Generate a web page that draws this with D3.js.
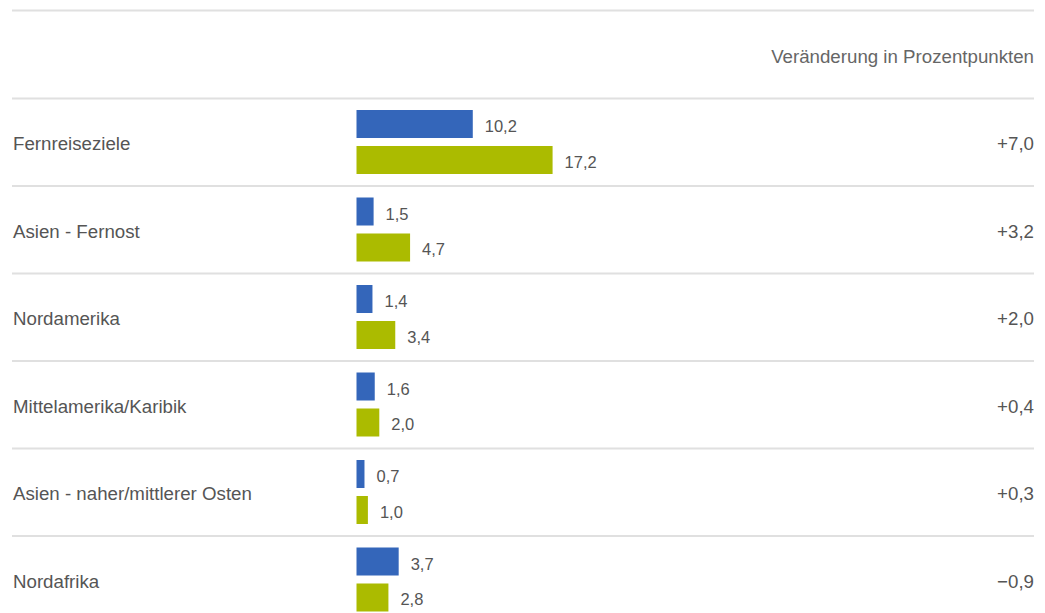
<html>
<head>
  <script type="text/javascript" src="https://d3js.org/d3.v7.min.js"></script>
  <style>
      body { margin: 0; background: #fff; font-family: "Liberation Sans", Arial, sans-serif; }
  </style>
</head>
<body>
<div id="chart"></div>
<script>
    const categories = ["Fernreiseziele", "Asien - Fernost", "Nordamerika", "Mittelamerika/Karibik",
        "Asien - naher/mittlerer Osten", "Nordafrika"];
    const seriesA = [10.2, 1.5, 1.4, 1.6, 0.7, 3.7];
    const seriesB = [17.2, 4.7, 3.4, 2.0, 1.0, 2.8];
    const changeLabels = ["+7,0", "+3,2", "+2,0", "+0,4", "+0,3", "\u22120,9"];
    const headerText = "Veränderung in Prozentpunkten";
    const series = ["a", "b"];
    const colors = {a: "#3466ba", b: "#abbb00"};

    let width = 1045;
    let height = 613;
    let left = 12, right = 1034;

    const svg = d3.select('#chart')
        .append('svg')
        .attr('width', width)
        .attr('height', height);

    const rowScale = d3.scaleBand()
        .domain(categories)
        .range([98, 98 + categories.length * 87.5]);

    const innerScale = d3.scaleBand()
        .domain(series)
        .range([12, 76])
        .paddingInner(0.222);

    const xScale = d3.scaleLinear()
        .domain([0, 20])
        .range([356.5, 356.5 + 228]);

    const fmt = v => d3.format(".1f")(v).replace(".", ",");

    // separator lines
    const lineYs = [10].concat(categories.map(c => rowScale(c)));
    svg.selectAll(".sep")
        .data(lineYs)
        .enter()
        .append("line")
        .attr("class", "sep")
        .attr("x1", left)
        .attr("x2", right)
        .attr("y1", d => d + 0.5)
        .attr("y2", d => d + 0.5)
        .attr("stroke", "#e0e0e0")
        .attr("stroke-width", 2);

    svg.append("text")
        .attr("x", right)
        .attr("y", 56.5)
        .attr("text-anchor", "end")
        .attr("dominant-baseline", "central")
        .attr("fill", "#666")
        .style("font-size", "18.7px")
        .text(headerText);

    const rows = svg.selectAll(".row")
        .data(categories.map((c, i) => ({name: c, a: seriesA[i], b: seriesB[i], change: changeLabels[i]})))
        .enter()
        .append("g")
        .attr("class", "row")
        .attr("transform", d => `translate(0, ${rowScale(d.name)})`);

    rows.append("text")
        .attr("x", 13)
        .attr("y", rowScale.bandwidth() / 2 + 2)
        .attr("dominant-baseline", "central")
        .attr("fill", "#555")
        .style("font-size", "18.7px")
        .text(d => d.name);

    rows.append("text")
        .attr("x", right)
        .attr("y", rowScale.bandwidth() / 2 + 2)
        .attr("text-anchor", "end")
        .attr("dominant-baseline", "central")
        .attr("fill", "#555")
        .style("font-size", "18.7px")
        .text(d => d.change);

    series.forEach(s => {
        rows.append("rect")
            .attr("x", xScale(0))
            .attr("y", innerScale(s))
            .attr("width", d => xScale(d[s]) - xScale(0))
            .attr("height", innerScale.bandwidth())
            .attr("fill", colors[s]);

        rows.append("text")
            .attr("x", d => xScale(d[s]) + 12)
            .attr("y", innerScale(s) + innerScale.bandwidth() / 2 + 2)
            .attr("dominant-baseline", "central")
            .attr("fill", "#555")
            .style("font-size", "16.5px")
            .text(d => fmt(d[s]));
    });
</script>
</body>
</html>
